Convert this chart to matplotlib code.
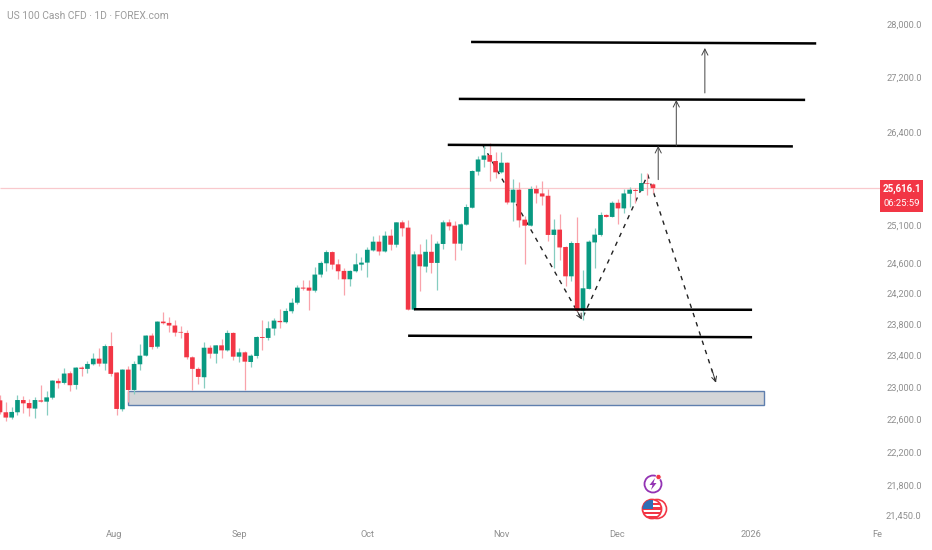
import matplotlib
matplotlib.use('Agg')
import matplotlib.pyplot as plt
from matplotlib.patches import Circle, Rectangle, Polygon

plt.rcParams['font.family'] = ['Roboto', 'DejaVu Sans']

############################################
# daily candles
opens = [22832,22685,22620,22685,22836,22799,22730,22832,22816,22865,23074,23049,23170,23024,23241,23225,23283,
         23354,23291,23514,23179,22722,23216,22961,23283,23392,23648,23506,23828,23811,23777,23695,23682,23371,
         23225,23120,23493,23417,23523,23459,23682,23379,23434,23312,23388,23630,23618,23738,23837,23820,23962,
         24073,24271,24271,24231,24443,24593,24743,24579,24492,24381,24487,24575,24602,24765,24883,24751,24964,
         24842,25145,25073,23983,24712,24549,24747,24598,24852,25145,25100,24856,25114,25345,25846,26013,26079,
         25995,25836,25971,25417,25594,25182,25100,25604,25542,25510,24974,25046,24811,24420,24865,23970,24254,
         24873,24974,25246,25219,25413,25336,25538,25590,25576,25682,25668]
highs = [22903,22807,22746,22903,22882,22848,22874,23024,22945,23091,23107,23237,23195,23250,23266,23321,23425,
         23488,23540,23695,23187,23225,23266,23321,23544,23656,23682,23832,23953,23888,23845,23768,23725,23392,
         23250,23566,23531,23531,23605,23716,23690,23488,23455,23417,23639,23845,23832,23876,23991,24004,24134,
         24304,24377,24377,24549,24628,24765,24761,24655,24532,24509,24734,24672,24811,24955,24978,25023,25060,
         25151,25182,25182,24761,24852,24924,24992,24887,25172,25191,25168,25141,25400,25873,26069,26225,26249,
         26121,26121,25981,25743,25696,25236,25650,25664,25720,25604,25191,25264,24828,24887,25219,24509,24910,
         25069,25287,25254,25431,25464,25604,25626,25622,25827,25827,25687]
lows = [22669,22575,22604,22657,22677,22636,22612,22807,22649,22848,22986,23036,22945,22978,23141,23174,23275,
        23266,23208,23141,22649,22698,22807,22915,23212,23383,23480,23488,23802,23695,23639,23618,23350,22957,
        23032,22986,23362,23300,23362,23446,23342,23312,22966,23246,23362,23459,23596,23660,23746,23811,23940,
        24060,24244,23983,24218,24417,24496,24522,24386,24178,24288,24479,24509,24407,24761,24708,24748,24774,
        24811,24955,23974,23975,24231,24473,24466,24235,24784,25036,24642,24774,25110,25338,25794,25911,25710,
        25757,25827,25390,25159,25077,24589,25091,25409,25386,24887,24532,24634,24288,24354,23961,23854,24250,
        24532,24965,25213,25213,25128,25273,25355,25417,25570,25514,25548]
closes = [22685,22620,22689,22836,22795,22734,22836,22816,22869,23078,23045,23166,23020,23241,23225,23287,23354,
          23291,23514,23162,22726,23216,22961,23287,23392,23648,23501,23828,23807,23777,23686,23686,23371,23225,
          23124,23493,23417,23523,23459,23682,23379,23434,23316,23392,23630,23618,23742,23841,23820,23966,24073,
          24271,24258,24231,24443,24598,24743,24575,24487,24381,24492,24579,24602,24774,24883,24751,24964,24842,
          25145,25064,23983,24712,24553,24747,24598,24856,25145,25091,24856,25118,25355,25855,26017,26073,25985,
          25836,25971,25417,25594,25172,25100,25604,25542,25500,24974,25046,24805,24420,24865,23970,24262,24883,
          24978,25246,25219,25413,25336,25542,25594,25576,25687,25673,25616]

ytick_vals = [28000,27200,26400,25100,24600,24200,23800,23400,23000,22600,22200,21800,21450]
ytick_txt = ['28,000.0','27,200.0','26,400.0','25,100.0','24,600.0','24,200.0','23,800.0','23,400.0',
             '23,000.0','22,600.0','22,200.0','21,800.0','21,450.0']
xtick_vals = [19.6, 41, 63, 86, 105.8, 128.8, 150.4]
xtick_txt = ['Aug','Sep','Oct','Nov','Dec','2026','Fe']

last_price = 25616.1

# drawn levels: start bar, end bar, start price, end price
level_x0 = [76.8, 78.7, 80.8, 71.0, 70.0]
level_x1 = [136.0, 138.1, 140.0, 129.0, 129.0]
level_p0 = [26224, 26885, 27728, 23988, 23646]
level_p1 = [26202, 26871, 27706, 23981, 23627]

zone_x = [22.0, 131.0]
zone_p = [22778, 22952]

path_x = [82.8, 99.8, 111.1, 122.8]
path_p = [26224, 23854, 25803, 23053]

up_x = [112.9, 116.0, 120.9]
up_p0 = [25734, 26210, 26972]
up_p1 = [26210, 26871, 27638]

GREEN = '#089981'
RED = '#f23645'
GREY = '#8f8f8f'
############################################
fig = plt.figure(figsize=(9.32, 5.5), dpi=100)
ax = fig.add_axes([0, 0, 1, 1])
ax.set_yscale('log')
ax.set_xlim(0, 159.86)
ax.set_ylim(21053, 28366)
for s in ax.spines.values():
    s.set_visible(False)

ax.hlines(last_price, 0, 151, color='#f9c9cd', lw=0.9, zorder=1)

# support zone
ax.add_patch(Rectangle((zone_x[0], zone_p[0]), zone_x[1]-zone_x[0], zone_p[1]-zone_p[0],
                       facecolor='#d3d5d8', edgecolor='#5f7fae', lw=1, zorder=2))

# dashed projection
ax.plot(path_x, path_p, color='#222222', lw=1, ls=(0, (3.2, 3.8)), zorder=2.5)
for i in (1, 3):
    tail_x = path_x[i] + 0.06*(path_x[i-1]-path_x[i])
    tail_p = path_p[i] + 0.06*(path_p[i-1]-path_p[i])
    ax.annotate('', xy=(path_x[i], path_p[i]), xytext=(tail_x, tail_p),
                arrowprops=dict(arrowstyle='->', color='#333333', lw=0.7, mutation_scale=9,
                                shrinkA=0, shrinkB=0), zorder=2.5)

# candles
for i in range(len(opens)):
    up = closes[i] >= opens[i]
    ax.vlines(i, lows[i], highs[i], color='#86cdc0' if up else '#f9a3ab', lw=0.9, zorder=3)
    ax.bar(i, abs(closes[i]-opens[i]), bottom=min(opens[i], closes[i]), width=0.8,
           color=GREEN if up else RED, lw=0, zorder=4, snap=False)

# horizontal levels
for i in range(len(level_x0)):
    ax.plot([level_x0[i], level_x1[i]], [level_p0[i], level_p1[i]], color='black', lw=1.8,
            solid_capstyle='butt', zorder=5)

# target arrows
for i in range(len(up_x)):
    ax.annotate('', xy=(up_x[i], up_p1[i]), xytext=(up_x[i], up_p0[i]),
                arrowprops=dict(arrowstyle='->', color='#444444', lw=0.7, mutation_scale=11,
                                shrinkA=0, shrinkB=0), zorder=5)

ax.yaxis.tick_right()
ax.set_yticks(ytick_vals)
ax.set_yticklabels(ytick_txt, ha='right')
ax.minorticks_off()
ax.tick_params(axis='y', length=0, pad=-7.5, labelsize=6.7, labelcolor=GREY)
ax.set_xticks(xtick_vals)
ax.set_xticklabels(xtick_txt)
ax.tick_params(axis='x', length=0, pad=-14.5, labelsize=6.7, labelcolor=GREY)

# overlay in pixels for title, price tag and the two icons
ov = fig.add_axes([0, 0, 1, 1], facecolor='none')
ov.set_xlim(0, 932)
ov.set_ylim(550, 0)
ov.axis('off')

ov.text(7, 16, 'US 100 Cash CFD · 1D · FOREX.com', fontsize=7.4, color='#9b9b9b', va='center', ha='left')

ov.add_patch(Rectangle((880, 180), 43, 32, facecolor=RED, edgecolor='none'))
ov.text(901.5, 188.5, '25,616.1', color='white', fontsize=7, fontweight='bold', ha='center', va='center')
ov.text(901.5, 203, '06:25:59', color='white', fontsize=6.8, ha='center', va='center')

# lightning icon
ov.add_patch(Circle((653, 484), 8.5, facecolor='white', edgecolor='#9333b4', lw=1.3))
ov.add_patch(Polygon([(655, 478), (649.5, 485), (652.5, 485), (651, 490), (656.5, 483), (653.5, 483)],
                     facecolor='#9333b4', edgecolor='none'))
ov.add_patch(Circle((658.5, 477), 2.6, facecolor=RED, edgecolor='white', lw=0.5))

# flag icon
ov.add_patch(Circle((657, 509), 9.5, facecolor='white', edgecolor=RED, lw=1.2))
c = Circle((652, 509), 9.5, facecolor='white', edgecolor=RED, lw=1.3)
ov.add_patch(c)
for k in range(4):
    st = Rectangle((642, 502.5 + k*4.6), 20, 2.4, facecolor=RED, edgecolor='none')
    ov.add_patch(st)
    st.set_clip_path(c)
ca = Rectangle((642, 500), 11, 9, facecolor='#2f6fb5', edgecolor='none')
ov.add_patch(ca)
ca.set_clip_path(c)

plt.savefig('out.png', dpi=100)
